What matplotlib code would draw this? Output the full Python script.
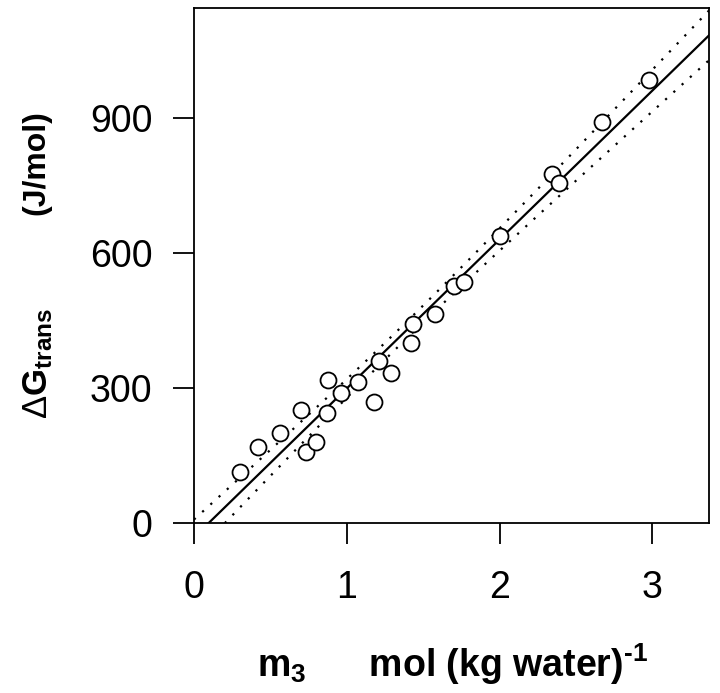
import numpy as np
import matplotlib
matplotlib.use("Agg")
import matplotlib.pyplot as plt

plt.rcParams['font.family'] = ['Liberation Sans', 'DejaVu Sans']
plt.rcParams['mathtext.fontset'] = 'custom'
plt.rcParams['mathtext.rm'] = 'Liberation Sans:bold'
plt.rcParams['mathtext.bf'] = 'Liberation Sans:bold'
plt.rcParams['mathtext.sf'] = 'Liberation Sans'
plt.rcParams['mathtext.it'] = 'Liberation Sans:bold'

# data
m3 = [0.30, 0.42, 0.56, 0.70, 0.73, 0.80, 0.87, 0.88, 0.96, 1.07, 1.18, 1.21,
      1.29, 1.43, 1.42, 1.58, 1.70, 1.77, 2.00, 2.34, 2.39, 2.67, 2.98]
dG = [113, 169, 201, 251, 158, 180, 245, 318, 288, 314, 269, 360,
      334, 442, 401, 464, 527, 536, 637, 777, 755, 892, 984]

xticks = [0, 1, 2, 3]
yticks = [0, 300, 600, 900]

x = np.array(m3)
y = np.array(dG)
n = len(x)
slope, intercept = np.polyfit(x, y, 1)
resid = y - (slope * x + intercept)
s = np.sqrt(np.sum(resid ** 2) / (n - 2))
xm = x.mean()
sxx = np.sum((x - xm) ** 2)
t = 2.080  # t(0.975, 21)

xx = np.linspace(0, 3.37, 300)
yy = slope * xx + intercept
half = t * s * np.sqrt(1.0 / n + (xx - xm) ** 2 / sxx)

W, H = 720, 693
fig = plt.figure(figsize=(7.2, 6.93), dpi=100)
ax = fig.add_axes([194 / W, 1 - 523 / H, (709 - 194) / W, (523 - 8) / H])

ax.plot(xx, yy, color='black', lw=1.6)
ax.plot(xx, yy + half, color='black', lw=1.6, linestyle=(0, (1, 4)))
ax.plot(xx, yy - half, color='black', lw=1.6, linestyle=(0, (1, 4)))
ax.plot(x, y, linestyle='none', marker='o', ms=11.5, mfc='white', mec='black', mew=1.3, zorder=3)

ax.set_xlim(0, 3.37)
ax.set_ylim(0, 1145)
ax.set_xticks(xticks)
ax.set_yticks(yticks)
ax.tick_params(direction='out', length=15, width=1.3, labelsize=27)
ax.tick_params(axis='y', pad=15)
ax.tick_params(axis='x', pad=19)
for sp in ax.spines.values():
    sp.set_linewidth(1.3)

fig.text(453 / W, 1 - 677 / H, r'$\mathbf{m_3}$      mol (kg water)$^{\text{-}1}$',
         fontsize=27, fontweight='bold', ha='center', va='baseline')
fig.text(21 / W, 1 - 110 / H, '(J/mol)',
         fontsize=23, fontweight='bold', rotation=90, ha='left', va='top')
fig.text(21 / W, 1 - 419 / H, r'$\mathsf{\Delta}\mathrm{G_{trans}}$',
         fontsize=25, rotation=90, ha='left', va='bottom')

fig.savefig('out.png', dpi=100)
